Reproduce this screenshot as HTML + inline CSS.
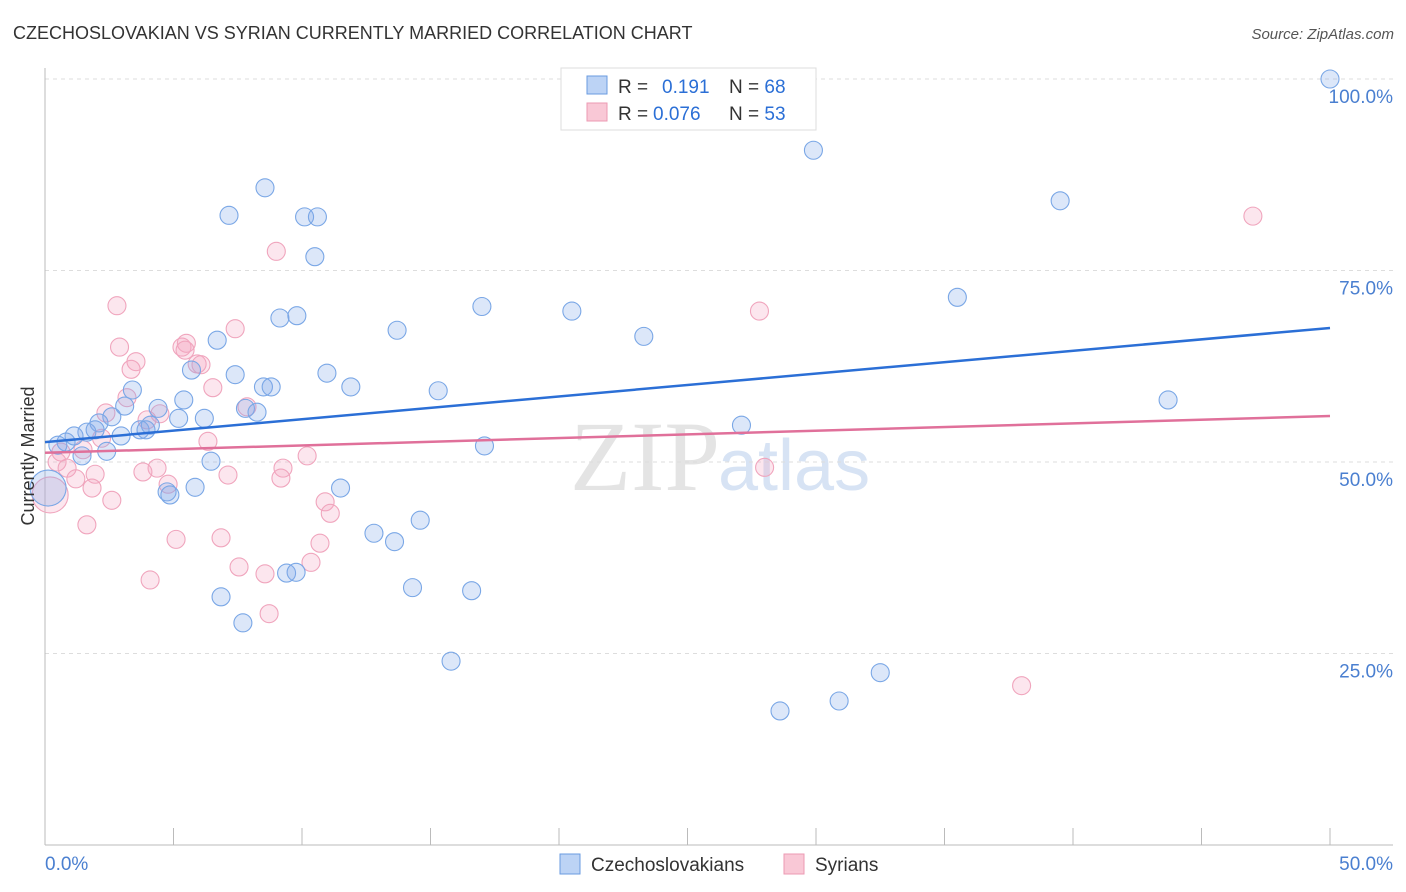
<!DOCTYPE html>
<html><head><meta charset="utf-8"><style>
body{margin:0;background:#fff;font-family:"Liberation Sans",sans-serif}
svg{display:block}
</style></head><body>
<svg id="chart" width="1406" height="892" xmlns="http://www.w3.org/2000/svg">
<text x="13" y="39" font-size="18" fill="#333">CZECHOSLOVAKIAN VS SYRIAN CURRENTLY MARRIED CORRELATION CHART</text>
<text x="1394" y="39" font-size="15" fill="#555" text-anchor="end" font-style="italic">Source: ZipAtlas.com</text>
<text x="720" y="490" font-size="100" fill="#e4e4e4" text-anchor="end" font-family="Liberation Serif">ZIP</text>
<text x="718" y="490" font-size="72" fill="#d7e3f4">atlas</text>
<g id="grid"></g><g id="axes"></g><g id="pts"></g><g id="lines"></g>
<g>
<rect x="561" y="68" width="255" height="62" fill="#fff" stroke="#ddd"/>
<rect x="587" y="76" width="20" height="18" fill="#bcd3f5" stroke="#6a9be0"/>
<rect x="587" y="103" width="20" height="18" fill="#f9c8d6" stroke="#ec9ab3"/>
<text x="618" y="93" font-size="19" fill="#333">R = <tspan x="662" fill="#2b6fd6">0.191</tspan><tspan x="729">N = </tspan><tspan fill="#2b6fd6">68</tspan></text>
<text x="618" y="120" font-size="19" fill="#333">R = <tspan x="653" fill="#2b6fd6">0.076</tspan><tspan x="729">N = </tspan><tspan fill="#2b6fd6">53</tspan></text>
</g>
<g>
<rect x="560" y="854" width="20" height="20" fill="#bcd3f5" stroke="#6a9be0"/>
<text x="591" y="871" font-size="19" fill="#333">Czechoslovakians</text>
<rect x="784" y="854" width="20" height="20" fill="#f9c8d6" stroke="#ec9ab3"/>
<text x="815" y="871" font-size="19" fill="#333">Syrians</text>
</g>
<text transform="translate(34,456) rotate(-90)" font-size="18" fill="#333" text-anchor="middle">Currently Married</text>
</svg>
<script>
const blueX=[50,29.9,39.5,8.56,7.16,10.1,10.6,10.5,35.5,17.0,20.5,9.14,9.8,13.7,23.3,6.7,5.7,7.4,10.97,8.5,8.8,11.9,15.3,3.4,5.4,43.7,3.1,4.4,7.8,8.25,2.6,5.2,6.2,2.1,27.1,4.1,3.7,3.93,1.63,1.95,1.13,2.96,0.82,0.5,17.1,2.4,1.44,6.46,5.84,11.5,4.75,4.86,14.6,12.8,13.6,9.4,9.77,14.3,16.6,6.85,7.7,15.8,32.5,30.9,28.6];
const blueY=[100,90.7,84.1,85.8,82.2,82.0,82.0,76.8,71.5,70.3,69.7,68.8,69.1,67.2,66.4,65.9,62.0,61.4,61.6,59.8,59.8,59.8,59.3,59.4,58.1,58.1,57.3,57.0,57.0,56.5,55.9,55.7,55.7,55.1,54.8,54.8,54.2,54.2,53.9,54.2,53.4,53.4,52.6,52.2,52.1,51.4,50.8,50.1,46.7,46.6,46.1,45.7,42.4,40.7,39.6,35.5,35.6,33.6,33.2,32.4,29.0,24.0,22.5,18.8,17.5];
const pinkX=[47.0,9.0,2.8,27.8,7.4,2.9,5.33,5.5,5.45,3.54,3.35,5.92,6.07,6.53,3.19,7.86,2.37,4.47,3.97,6.34,0.62,2.2,1.48,10.2,0.47,4.36,3.81,9.26,28.0,0.86,1.95,7.12,9.18,1.2,4.79,1.83,2.6,10.9,11.1,1.63,5.1,6.85,10.7,10.35,7.55,8.56,4.09,8.72,38.0];
const pinkY=[82.1,77.5,70.4,69.7,67.4,65.0,65.0,65.5,64.6,63.1,62.1,62.8,62.7,59.7,58.4,57.2,56.4,56.3,55.5,52.7,51.3,53.1,51.6,50.8,50.0,49.2,48.7,49.2,49.3,49.2,48.4,48.3,47.9,47.8,47.1,46.6,45.0,44.8,43.3,41.8,39.9,40.1,39.4,36.9,36.3,35.4,34.6,30.2,20.8];
const bigBlue=[[0.12,46.6]];
const bigPink=[[0.2,45.7]];
const blueTrend=[52.6,67.5];
const pinkTrend=[51.2,56.0];
const yTicks=[25,50,75,100];
const xTicks=[0,5,10,15,20,25,30,35,40,45,50];
const NS='http://www.w3.org/2000/svg';
const X=v=>45+v/50*1285, Y=v=>845-v/100*766;
function mk(p,t,a){const e=document.createElementNS(NS,t);for(const k in a)e.setAttribute(k,a[k]);p.appendChild(e);return e;}
const grid=document.getElementById('grid'),axes=document.getElementById('axes'),pts=document.getElementById('pts'),lines=document.getElementById('lines');
yTicks.forEach(t=>{const l=mk(grid,'line',{x1:45,x2:1393,y1:Y(t),y2:Y(t),stroke:'#ddd','stroke-dasharray':'4,4'});


const tx=mk(grid,'text',{x:1393,y:Y(t)+24,'font-size':19,fill:'#4a7fd0','text-anchor':'end'});tx.textContent=t.toFixed(1)+'%';

});
mk(axes,'line',{x1:45,x2:45,y1:68,y2:845,stroke:'#bbb'});
mk(axes,'line',{x1:45,x2:1393,y1:845,y2:845,stroke:'#bbb'});
xTicks.forEach(t=>{const l=mk(axes,'line',{x1:X(t),x2:X(t),y1:828,y2:845,stroke:'#bbb'});

});
[[0,'0.0%','start',45],[50,'50.0%','end',1393]].forEach(d=>{const tx=mk(axes,'text',{x:d[3],y:870,'font-size':19,fill:'#4a7fd0','text-anchor':d[2]});tx.textContent=d[1];

});
function dot(x,y,r,blue){const c=mk(pts,'circle',{cx:X(x),cy:Y(y),r:r,fill:blue?'rgba(130,170,235,0.28)':'rgba(245,165,195,0.28)',stroke:blue?'#7aa7e6':'#f0a5bd','stroke-width':1.1});

}
pinkX.forEach((x,i)=>dot(x,pinkY[i],9,false));
blueX.forEach((x,i)=>dot(x,blueY[i],9,true));
bigPink.forEach(p=>dot(p[0],p[1],18,false));
bigBlue.forEach(p=>dot(p[0],p[1],18,true));
const bl=mk(lines,'line',{x1:X(0),x2:X(50),y1:Y(blueTrend[0]),y2:Y(blueTrend[1]),stroke:'#2b6fd6','stroke-width':2.5});


const pl=mk(lines,'line',{x1:X(0),x2:X(50),y1:Y(pinkTrend[0]),y2:Y(pinkTrend[1]),stroke:'#e0709a','stroke-width':2.5});


</script>
</body></html>
